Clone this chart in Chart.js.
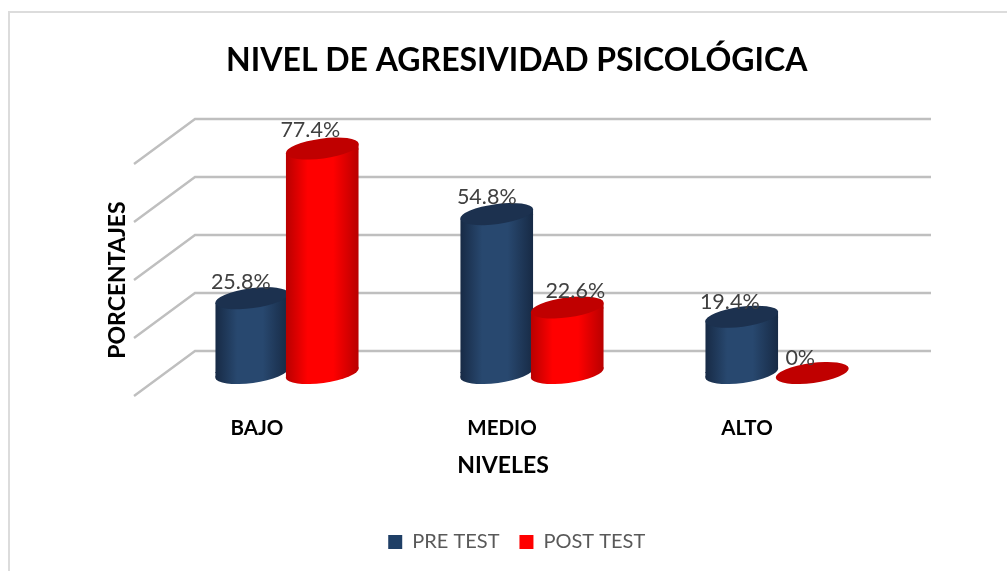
<!DOCTYPE html>
<html><head><meta charset="utf-8">
<style>html,body{margin:0;padding:0;background:#fff}canvas{display:block}</style>
<script src="https://cdn.jsdelivr.net/npm/chart.js@4"></script>
</head><body>
<canvas id="c" width="1007" height="571"></canvas>
<script>
const categories = ["BAJO", "MEDIO", "ALTO"];
const preTest = [25.8, 54.8, 19.4];
const postTest = [77.4, 22.6, 0];
const valueTicks = [0, 20, 40, 60, 80];
const FONT = "Lato, Carlito, 'Open Sans', sans-serif";

const looks = [
  {edge: "#172a45", mid: "#28486f", top: "#1c314f"},
  {edge: "#b80000", mid: "#ff0000", top: "#c00000"}
];
// per-label nudges relative to the bar top
const labelNudge = [
  [[-11,-16],[-10,-17],[-12,-15]],
  [[-12,-18],[8,-16],[-12,-15]]
];
const TILT = -0.135, RY = 10;

const cylinder = {
  id: "cylinder",
  beforeDatasetsDraw(chart) {
    const {ctx, chartArea: a, scales: {y}} = chart;
    ctx.save();
    ctx.strokeStyle = "#bfbfbf";
    ctx.lineWidth = 2.4;
    valueTicks.forEach(t => {
      const p = y.getPixelForValue(t);
      ctx.beginPath();
      ctx.moveTo(a.left - 30.5, p + 23);
      ctx.lineTo(a.left + 30.5, p - 22);
      ctx.lineTo(a.right + 31.5, p - 22);
      ctx.stroke();
    });
    ctx.restore();
  },
  // the library's bars are painted below, in series order, so POST TEST overlaps PRE TEST
  beforeDatasetDraw() { return false; },
  afterDatasetsDraw(chart) {
    const {ctx, chartArea: area, scales: {y}} = chart;
    const base = y.getPixelForValue(0);
    const s = Math.sin(-TILT), c = Math.cos(TILT);
    [0, 1].forEach(di => {
      const lk = looks[di];
      chart.getDatasetMeta(di).data.forEach(bar => {
        const hw = bar.width / 2;
        const l = bar.x - hw, r = bar.x + hw;
        // ellipse whose vertical tangents sit exactly on the cylinder's sides
        const rx = Math.sqrt((hw * hw - RY * RY * s * s) / (c * c));
        const dy = (rx * rx - RY * RY) * s * c / hw;
        const g = ctx.createLinearGradient(l, 0, r, 0);
        g.addColorStop(0, lk.edge); g.addColorStop(0.3, lk.mid);
        g.addColorStop(0.65, lk.mid); g.addColorStop(1, lk.edge);
        if (Math.abs(bar.y - base) > 1) {
          ctx.save();
          ctx.fillStyle = g;
          ctx.beginPath();
          ctx.ellipse(bar.x, base, rx, RY, TILT, 0, Math.PI * 2);
          ctx.fill();
          ctx.restore();
          ctx.save();
          ctx.beginPath();
          ctx.moveTo(l, bar.y + dy);
          ctx.lineTo(r, bar.y - dy);
          ctx.lineTo(r, base - dy);
          ctx.lineTo(l, base + dy);
          ctx.closePath();
          ctx.clip();
          bar.options = Object.assign({}, bar.options, {backgroundColor: g, borderWidth: 0});
          bar.draw(ctx, area);
          // slanted caps where the tilted ends reach past the library's rectangle
          ctx.fillStyle = g;
          ctx.fillRect(l, bar.y - dy, bar.width, dy + 1);
          ctx.fillRect(l, base - 1, bar.width, dy + 1);
          ctx.restore();
        }
        ctx.save();
        ctx.fillStyle = lk.top;
        ctx.beginPath();
        ctx.ellipse(bar.x, bar.y, rx, RY, TILT, 0, Math.PI * 2);
        ctx.fill();
        ctx.restore();
      });
    });
  },
  afterDraw(chart) {
    const {ctx} = chart;
    ctx.save();
    // frame
    ctx.strokeStyle = "#dcdcdc";
    ctx.lineWidth = 2;
    ctx.beginPath();
    ctx.moveTo(9, 571); ctx.lineTo(9, 12); ctx.lineTo(1007, 12);
    ctx.stroke();
    // data labels
    ctx.font = "21.5px " + FONT;
    ctx.fillStyle = "#404040";
    ctx.textAlign = "center";
    ctx.textBaseline = "middle";
    [0, 1].forEach(di => {
      const vals = chart.data.datasets[di].data;
      chart.getDatasetMeta(di).data.forEach((bar, i) => {
        const n = labelNudge[di][i];
        ctx.fillText(vals[i] + "%", bar.x + n[0], bar.y + n[1]);
      });
    });
    // axis titles
    ctx.font = "bold 23px " + FONT;
    ctx.fillStyle = "#000";
    ctx.fillText("NIVELES", 503, 466);
    ctx.translate(118, 280);
    ctx.rotate(-Math.PI / 2);
    ctx.fillText("PORCENTAJES", 0, 0);
    ctx.restore();
  }
};

new Chart(document.getElementById("c"), {
  type: "bar",
  data: {
    labels: categories,
    datasets: [
      {label: "PRE TEST", data: preTest, backgroundColor: "#1f3f66",
       barPercentage: 1.035, categoryPercentage: 0.5755},
      {label: "POST TEST", data: postTest, backgroundColor: "#ff0000",
       barPercentage: 1.035, categoryPercentage: 0.5755}
    ]
  },
  plugins: [cylinder],
  options: {
    responsive: false,
    animation: false,
    layout: {padding: {left: 134, right: 107.5, top: 0, bottom: 9}},
    plugins: {
      tooltip: {enabled: false},
      title: {
        display: true,
        text: "NIVEL DE AGRESIVIDAD PSICOLÓGICA",
        color: "#000",
        font: {family: FONT, size: 32, weight: "bold", lineHeight: 1.2},
        padding: {top: 41, bottom: 61.6}
      },
      legend: {
        position: "bottom",
        labels: {color: "#595959", font: {family: FONT, size: 20}, boxWidth: 14, boxHeight: 14, padding: 20}
      }
    },
    scales: {
      x: {
        grid: {display: false, drawTicks: false},
        border: {display: false},
        ticks: {color: "#000", font: {family: FONT, size: 20.5, weight: "bold"}, padding: 43, labelOffset: -30, maxRotation: 0},
        afterFit(s) { s.height = 139; }
      },
      y: {
        min: 0, max: 80,
        afterBuildTicks(s) { s.ticks = valueTicks.map(v => ({value: v})); },
        grid: {display: false, drawTicks: false},
        border: {display: false},
        ticks: {display: false},
        afterFit(s) { s.width = 30.5; }
      }
    }
  }
});
</script>
</body></html>
